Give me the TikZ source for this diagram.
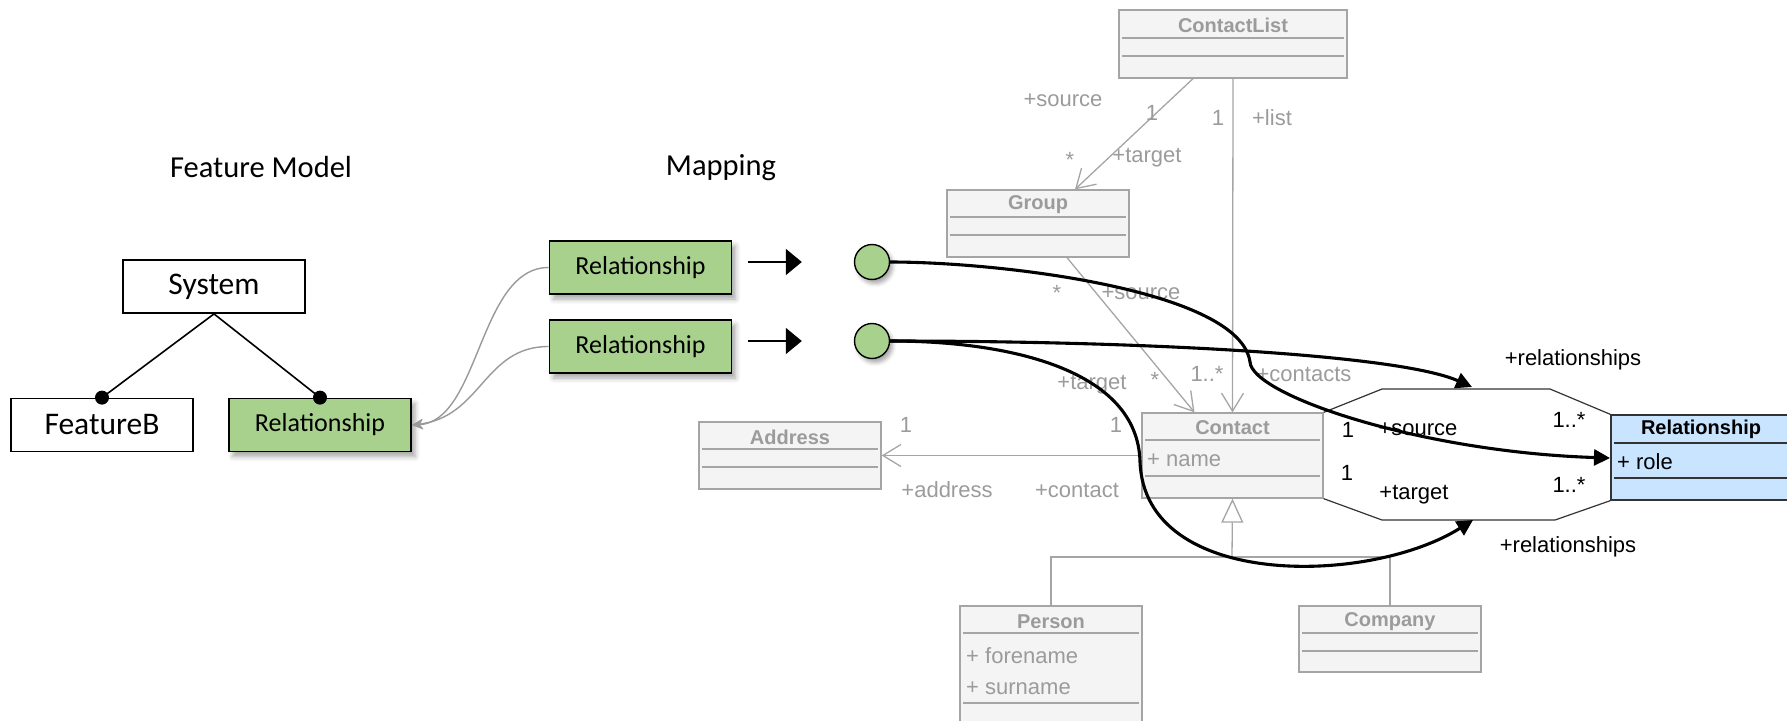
\documentclass[tikz,border=0pt]{standalone}
\usepackage{fontspec}
\setmainfont{Carlito}
\newfontfamily\umlfont{Liberation Sans}
\usetikzlibrary{arrows.meta, positioning, calc, shadows.blur}

\definecolor{fmgreen}{RGB}{169,209,142}
\definecolor{umlgray}{RGB}{165,165,165}
\definecolor{umlfill}{RGB}{244,244,244}
\definecolor{umltext}{RGB}{155,155,155}
\definecolor{relblue}{RGB}{200,228,255}

\begin{document}
\begin{tikzpicture}[
  x=1pt, y=-1pt,
  feature/.style={draw, line width=1.8pt, minimum width=182pt, minimum height=53pt, inner sep=0pt, font=\fontsize{31.5}{37}\selectfont},
  mapped/.style={feature, fill=fmgreen, font=\fontsize{26}{31}\selectfont,
    blur shadow={shadow xshift=4pt, shadow yshift=-5pt, shadow blur radius=5pt, shadow opacity=35}},
  heading/.style={font=\fontsize{30.5}{36}\selectfont},
  port/.style={circle, draw, line width=1.4pt, fill=fmgreen, minimum size=35pt, inner sep=0pt,
    blur shadow={shadow xshift=3pt, shadow yshift=-4pt, shadow blur radius=4pt, shadow opacity=35}},
  maparrow/.style={line width=1.8pt, -{Triangle[length=16pt, width=26pt]}, shorten <=16pt, shorten >=52pt},
  trace/.style={draw=gray!80, line width=1.4pt, -{Stealth[length=11pt, width=10pt]}},
  umlclass/.style={draw=umlgray, fill=umlfill, line width=1.3pt, inner sep=0pt},
  umlsep/.style={draw=umlgray, line width=1.3pt},
  umltitle/.style={text=umltext, font=\umlfont\bfseries\fontsize{20}{24}\selectfont},
  umllabel/.style={text=umltext, font=\umlfont\fontsize{22}{26}\selectfont, inner sep=0pt},
  assoc/.style={draw=umlgray, line width=1.3pt},
  navig/.style={assoc, -{Straight Barb[length=18pt, width=22pt]}},
  octo/.style={draw=black!80, line width=1.2pt},
  octolabel/.style={font=\umlfont\fontsize{22}{26}\selectfont, inner sep=0pt},
  mapcurve/.style={line width=3.1pt, -{Triangle[length=16pt, width=16pt]}},
]
\clip (0,0) rectangle (1787,720);

\node[heading] (fmTitle) at (261,167) {Feature Model};
\node[heading] (mapTitle) at (721,168) {Mapping};

\node[feature] (sys) at (214,286.5) {System};
\node[feature] (featB) at (102,425) {FeatureB};
\node[mapped] (fmRel) at (320,425) {Relationship};
\draw[line width=1.6pt] (sys.south) -- (featB.north);
\draw[line width=1.6pt] (sys.south) -- (fmRel.north);
\fill (featB.north) circle (7);
\fill (fmRel.north) circle (7);

\node[mapped] (relA) at (640.5,267.5) {Relationship};
\node[mapped] (relB) at (640.5,346.5) {Relationship};
\node[port] (portA) at (872,262) {};
\node[port] (portB) at (872,341) {};
\draw[maparrow] (relA.east |- portA) -- (portA);
\draw[maparrow] (relB.east |- portB) -- (portB);
\draw[trace] (relA.west) .. controls +(-70,0) and +(68,-3) .. (fmRel.east);
\draw[trace] (relB.west) .. controls +(-65,0) and +(70,-8) .. (fmRel.east);

% class diagram
\node[umlclass, minimum width=228pt, minimum height=68pt] (contactList) at (1233,44) {};
\node[umltitle] (contactListName) at (1233,25) {ContactList};
\draw[umlsep] (1122,38) -- (1344,38);
\draw[umlsep] (1122,56) -- (1344,56);

\node[umlclass, minimum width=182pt, minimum height=67pt] (group) at (1038,223.5) {};
\node[umltitle] (groupName) at (1038,205) {Group};
\draw[umlsep] (950,217) -- (1126,217);
\draw[umlsep] (950,235) -- (1126,235);

\node[umlclass, minimum width=181pt, minimum height=85pt] (contact) at (1232.5,455.5) {};
\node[umltitle] (contactName) at (1232.5,428) {Contact};
\draw[umlsep] (1145,440) -- (1320,440);
\draw[umlsep] (1145,476) -- (1320,476);
\node[umllabel, anchor=west] (contactAttr) at (1147,460) {+ name};

\node[umlclass, minimum width=182pt, minimum height=67pt] (address) at (790,455.5) {};
\node[umltitle] (addressName) at (790,437) {Address};
\draw[umlsep] (702,449) -- (878,449);
\draw[umlsep] (702,467) -- (878,467);

\node[umlclass, minimum width=182pt, minimum height=134pt] (person) at (1051,673) {};
\node[umltitle] (personName) at (1051,622) {Person};
\draw[umlsep] (963,633) -- (1139,633);
\draw[umlsep] (963,703) -- (1139,703);
\node[umllabel, anchor=west] (personFore) at (966,656) {+ forename};
\node[umllabel, anchor=west] (personSur) at (966,688) {+ surname};

\node[umlclass, minimum width=182pt, minimum height=66pt] (company) at (1390,639) {};
\node[umltitle] (companyName) at (1390,622) {Company};
\draw[umlsep] (1302,633) -- (1478,633);
\draw[umlsep] (1302,651) -- (1478,651);

\node[umlclass, draw=black!80, fill=relblue, minimum width=189pt, minimum height=85pt] (relationship) at (1705.5,457.5) {};
\node[umltitle, text=black] (relationshipName) at (1701,429) {Relationship};
\draw[umlsep, draw=black!80] (1614,443) -- (1800,443);
\draw[umlsep, draw=black!80] (1614,478) -- (1800,478);
\node[octolabel, anchor=west] (relationshipAttr) at (1617,462) {+ role};

\draw[navig] ($(contactList.south)+(-40,0)$) -- ($(group.north)+(37,0)$);
\draw[navig] (contactList.south) -- (contact.north);
\draw[navig] ($(group.south)+(29,0)$) -- ($(contact.north)+(-38,0)$);
\draw[navig] (contact.west) -- (address.east);
\coordinate (genJoin) at (1232,557);
\draw[assoc] (person.north) |- (genJoin) -| (company.north);
\draw[assoc, -{Triangle[open, fill=white, length=24pt, width=22pt]}] (genJoin) -- (contact.south);

\node[umllabel] (srcOfList) at (1063,100) {+source};
\node[umllabel] (oneOfList) at (1152,113) {1};
\node[umllabel] (oneList) at (1218,118) {1};
\node[umllabel] (listRole) at (1272,118) {+list};
\node[umllabel] (starGroup) at (1070,160) {*};
\node[umllabel] (tgtGroup) at (1147,158) {+target};
\node[umllabel] (starGroupB) at (1057,293) {*};
\node[umllabel] (srcGroup) at (1141,293) {+source};
\node[umllabel] (starContact) at (1155,380) {*};
\node[umllabel] (manyContact) at (1207,374) {1..*};
\node[umllabel] (tgtContact) at (1092,385) {+target};
\node[umllabel] (contactsRole) at (1304,374) {+contacts};
\node[umllabel] (oneContact) at (1116,425) {1};
\node[umllabel] (oneAddress) at (906,425) {1};
\node[umllabel] (addressRole) at (947,490) {+address};
\node[umllabel] (contactRole) at (1077,490) {+contact};

\draw[octo] (contact.north east) -- (1382,389) -- (1550,389) -- (relationship.north west);
\draw[octo] (contact.south east) -- (1382,520) -- (1555,520) -- (relationship.south west);
\node[octolabel] (relsTop) at (1573,360) {+relationships};
\node[octolabel] (relsBottom) at (1568,547) {+relationships};
\node[octolabel] (oneSrc) at (1348,430) {1};
\node[octolabel] (srcRole) at (1418,429) {+source};
\node[octolabel] (manySrc) at (1569,420) {1..*};
\node[octolabel] (oneTgt) at (1347,473) {1};
\node[octolabel] (tgtRole) at (1414,495) {+target};
\node[octolabel] (manyTgt) at (1569,485) {1..*};

\coordinate (roleIn) at (1610,458);
\coordinate (srcIn) at (1472,387);
\coordinate (tgtIn) at (1473,520);
\draw[mapcurve] (portA.east) .. controls (1000,262) and (1240,290) .. (1250,362)
  .. controls (1252,395) and (1420,452) .. (roleIn);
\draw[mapcurve] (portB.east) .. controls (1150,341) and (1400,355) .. (srcIn);
\draw[mapcurve] (portB.east) .. controls (1010,341) and (1138,370) .. (1140,462)
  .. controls (1145,590) and (1370,585) .. (tgtIn);
\end{tikzpicture}
\end{document}
